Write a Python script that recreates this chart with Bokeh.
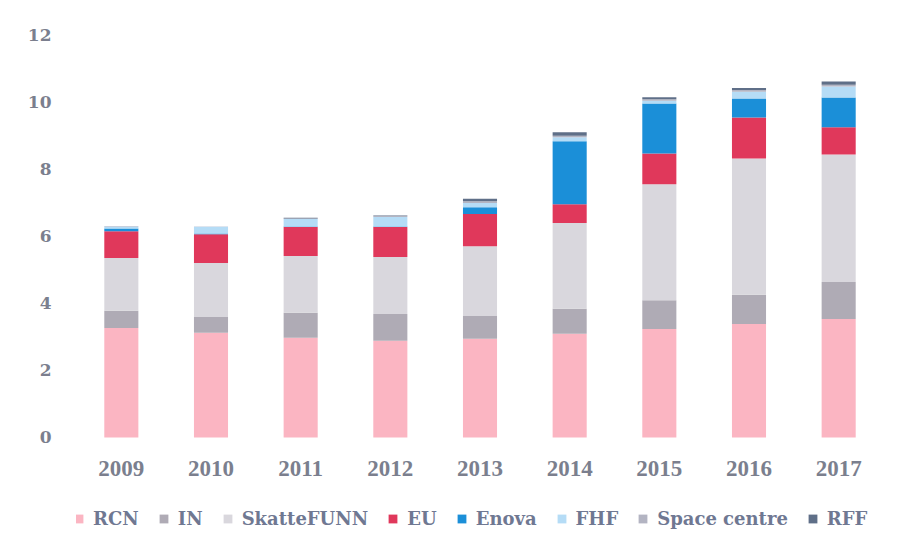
from bokeh.plotting import figure
from bokeh.models import ColumnDataSource, Legend, LegendItem, Range1d, FactorRange
from bokeh.embed import file_html
from bokeh.resources import INLINE

years = ["2009", "2010", "2011", "2012", "2013", "2014", "2015", "2016", "2017"]
rcn = [3.27, 3.13, 2.98, 2.89, 2.95, 3.10, 3.24, 3.39, 3.54]
inn = [0.51, 0.47, 0.74, 0.80, 0.68, 0.74, 0.86, 0.87, 1.10]
skatt = [1.58, 1.61, 1.70, 1.70, 2.08, 2.56, 3.46, 4.07, 3.81]
eu = [0.80, 0.86, 0.86, 0.89, 0.96, 0.56, 0.92, 1.22, 0.81]
enova = [0.08, 0.02, 0.02, 0.02, 0.20, 1.88, 1.49, 0.57, 0.89]
fhf = [0.06, 0.20, 0.22, 0.28, 0.13, 0.12, 0.08, 0.20, 0.33]
space = [0.01, 0.01, 0.02, 0.03, 0.05, 0.05, 0.05, 0.05, 0.05]
rff = [0.00, 0.00, 0.02, 0.02, 0.08, 0.10, 0.06, 0.06, 0.10]
y_ticks = [0, 2, 4, 6, 8, 10, 12]

series = ["RCN", "IN", "SkatteFUNN", "EU", "Enova", "FHF", "Space centre", "RFF"]
colors = ["#fbb5c2", "#afabb5", "#d9d7dd", "#e0385b", "#1b8fd8", "#b5dcf6", "#b3b4c2", "#5f6f88"]

data = {"years": years, "RCN": rcn, "IN": inn, "SkatteFUNN": skatt, "EU": eu,
        "Enova": enova, "FHF": fhf, "Space centre": space, "RFF": rff}
source = ColumnDataSource(data)

FONT = "DejaVu Serif"
TEXT_COLOR = "#7b7f8e"

p = figure(x_range=FactorRange(*years), y_range=Range1d(-3.463, 12.597),
           width=900, height=553, output_backend="svg", toolbar_location=None,
           x_axis_location=None,
           min_border_left=76, min_border_right=17, min_border_top=15, min_border_bottom=0)

renderers = p.vbar_stack(series, x="years", width=0.38, color=colors, source=source,
                         line_color=None)

# year labels under the bars
p.text(x="years", y=-0.93, text="years", source=source,
       text_font=FONT, text_font_size="23px", text_font_style="bold",
       text_color=TEXT_COLOR, text_align="center", text_baseline="middle")

p.xgrid.visible = False
p.ygrid.visible = False
p.outline_line_color = None
p.yaxis.axis_line_color = None
p.yaxis.major_tick_line_color = None
p.yaxis.minor_tick_line_color = None
p.yaxis.major_label_text_font = FONT
p.yaxis.major_label_text_color = TEXT_COLOR
p.yaxis.major_label_text_font_size = "17px"
p.yaxis.major_label_text_font_style = "bold"
p.yaxis.ticker = y_ticks
p.yaxis.major_label_standoff = 19

items = [LegendItem(label=s, renderers=[r]) for s, r in zip(series, renderers)]
legend = Legend(items=items, orientation="horizontal", location=(-3, 24),
                label_text_font=FONT, label_text_font_size="18px",
                label_text_color="#6f7892", label_text_font_style="bold",
                glyph_width=11, glyph_height=11, spacing=19, label_standoff=9,
                border_line_color=None, background_fill_alpha=0, margin=0, padding=0)
p.add_layout(legend)

open("out.html", "w").write(file_html(p, INLINE))
